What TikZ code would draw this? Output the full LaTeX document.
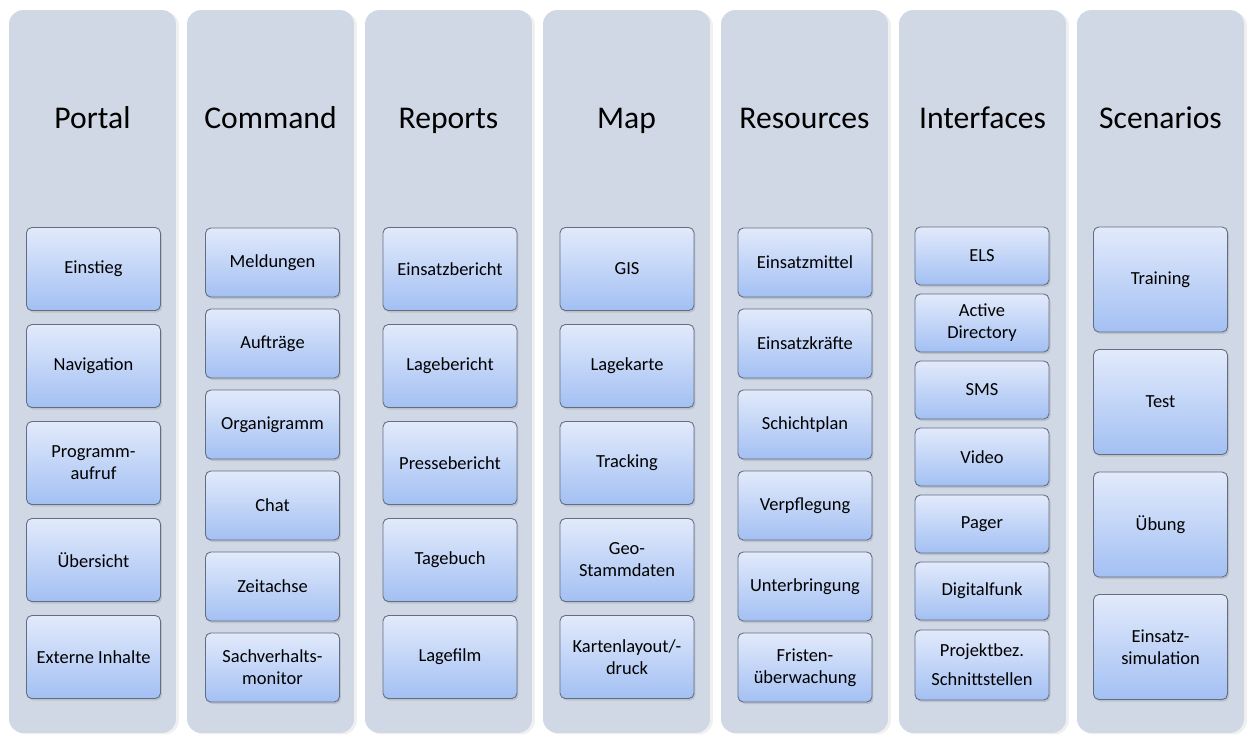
\documentclass[tikz,border=0pt]{standalone}
\usepackage{fontspec}
\setmainfont{Carlito}
\usetikzlibrary{shadows}
\definecolor{lanefill}{HTML}{D0D8E6}
\definecolor{boxtop}{HTML}{E2EAFB}
\definecolor{boxbottom}{HTML}{A3C0F3}
\definecolor{boxedge}{HTML}{626E80}

\tikzset{
  lane/.style={fill=lanefill, rounded corners=8pt, inner sep=0pt,
    minimum width=3.34cm, minimum height=14.46cm,
    drop shadow={opacity=0.12, shadow xshift=0.6mm, shadow yshift=-0.3mm}},
  lanetitle/.style={anchor=base, font=\fontsize{18}{21}\selectfont},
  item/.style={draw=boxedge, line width=0.5pt, top color=boxtop, bottom color=boxbottom,
    rounded corners=3pt, minimum width=2.68cm, inner sep=1pt, align=center,
    font=\fontsize{10.5}{12.5}\selectfont,
    drop shadow={opacity=0.25, shadow xshift=0.3mm, shadow yshift=-0.4mm}}
}

\begin{document}
\begin{tikzpicture}[x=0.02cm, y=-0.02cm]
    \useasboundingbox (0,0) rectangle (1247,735);
    % lanes and their titles
    \foreach \name/\title [count=\c from 0] in {portal/Portal, command/Command, reports/Reports,
        map/Map, resources/Resources, interfaces/Interfaces, scenarios/Scenarios} {
        \node[lane] (\name-lane) at ({92.5+178*\c}, 371.5) {};
        \node[lanetitle] (\name) at ({92.5+178*\c}, 128) {\title};
    }
    % Portal
    \foreach \lbl [count=\i] in {Einstieg, Navigation, {Programm-\\aufruf}, Übersicht, Externe Inhalte}
        \node[item, minimum height=1.66cm] (portal-\i) at (93.5, {172+97*\i}) {\lbl};
    % Command
    \foreach \lbl [count=\i] in {Meldungen, Aufträge, Organigramm, Chat, Zeitachse, {Sachverhalts-\\monitor}}
        \node[item, minimum height=1.38cm] (command-\i) at (272.5, {181.5+81*\i}) {\lbl};
    % Reports
    \foreach \lbl [count=\i] in {Einsatzbericht, Lagebericht, Pressebericht, Tagebuch, Lagefilm}
        \node[item, minimum height=1.66cm] (reports-\i) at (450, {172+97*\i}) {\lbl};
    % Map
    \foreach \lbl [count=\i] in {GIS, Lagekarte, Tracking, {Geo-\\Stammdaten}, {Kartenlayout/-\\druck}}
        \node[item, minimum height=1.66cm] (map-\i) at (627, {172+97*\i}) {\lbl};
    % Resources
    \foreach \lbl [count=\i] in {Einsatzmittel, Einsatzkräfte, Schichtplan, Verpflegung, Unterbringung, {Fristen-\\überwachung}}
        \node[item, minimum height=1.38cm] (resources-\i) at (805, {181.5+81*\i}) {\lbl};
    % Interfaces
    \foreach \lbl [count=\i] in {ELS, {Active\\Directory}, SMS, Video, Pager, Digitalfunk}
        \node[item, minimum height=1.16cm] (interfaces-\i) at (982, {189+67*\i}) {\lbl};
    \node[item, minimum height=1.4cm] (interfaces-7) at (982, 665) {Projektbez.\\[4pt]Schnittstellen};
    % Scenarios
    \foreach \lbl [count=\i] in {Training, Test, Übung, {Einsatz-\\simulation}}
        \node[item, minimum height=2.1cm] (scenarios-\i) at (1160.5, {157+122.5*\i}) {\lbl};
\end{tikzpicture}
\end{document}
